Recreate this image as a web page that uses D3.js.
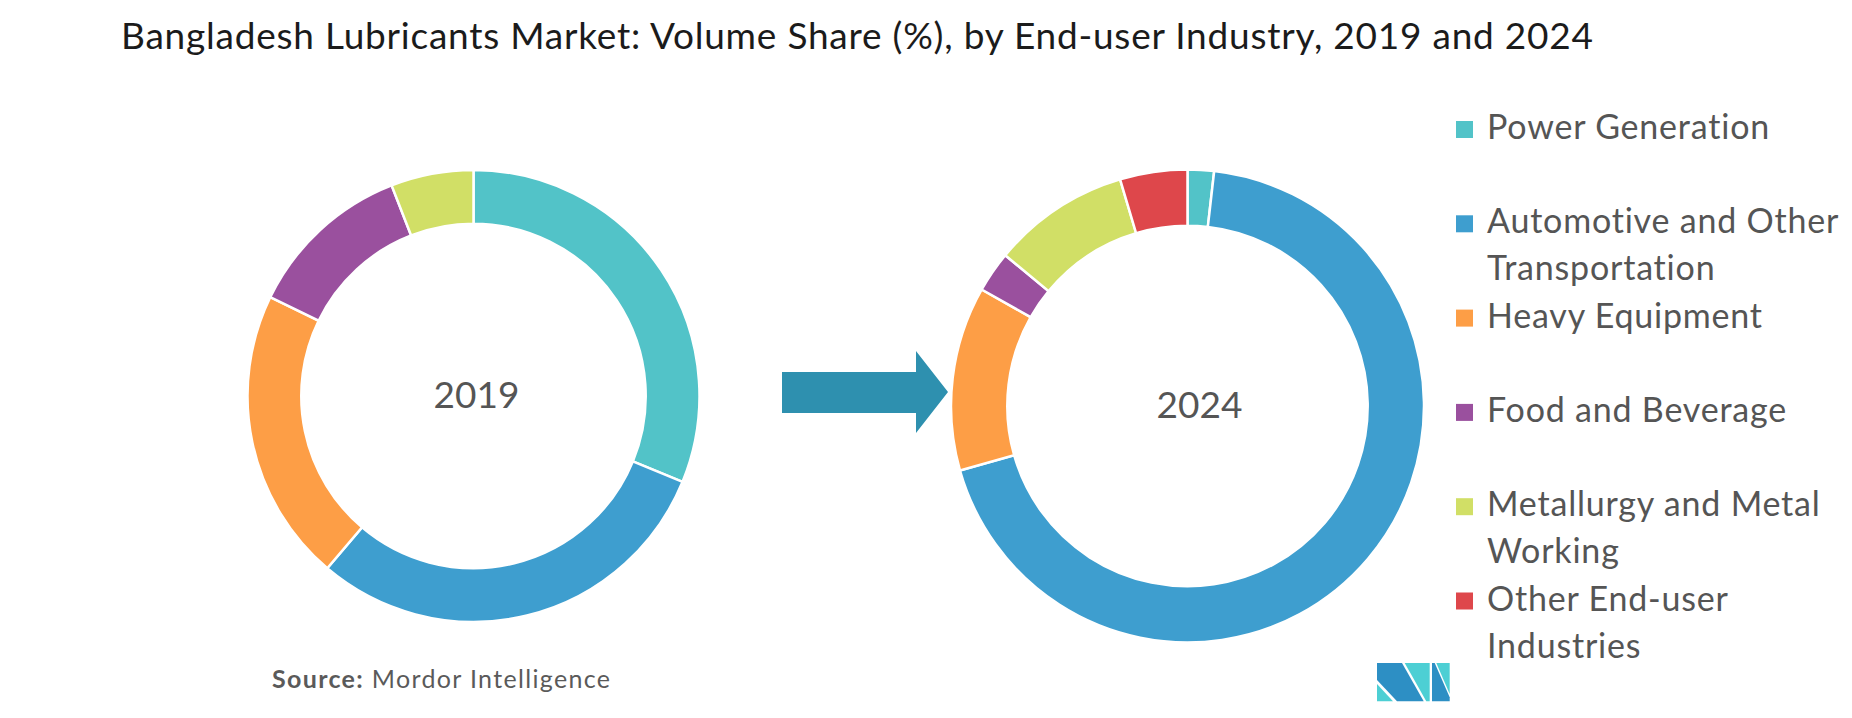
<!DOCTYPE html>
<html>
<head>
<meta charset="utf-8">
<script src="https://cdn.jsdelivr.net/npm/d3@7"></script>
<style>
  body { margin: 0; background: #fff; }
  svg text { font-family: Lato, "Open Sans", sans-serif; }
</style>
</head>
<body>
<svg id="chart"></svg>
<script>
const categories = [
    'Power Generation',
    'Automotive and Other Transportation',
    'Heavy Equipment',
    'Food and Beverage',
    'Metallurgy and Metal Working',
    'Other End-user Industries'
];
const years = ['2019', '2024'];
const share2019 = [31.2, 30.0, 21.0, 11.9, 5.9, 0];
const share2024 = [1.8, 68.8, 12.6, 2.8, 9.4, 4.6];

const width = 1852;
const height = 718;

const colors = ['#52c3c8', '#3e9ecf', '#fd9e46', '#9a509e', '#d1df66', '#de474b'];
const color = d3.scaleOrdinal().domain(categories).range(colors);

const svg = d3.select('#chart')
    .attr('width', width)
    .attr('height', height);

// title
svg.append('text')
    .attr('x', 121)
    .attr('y', 49)
    .attr('font-size', 37)
    .attr('fill', '#1b1b1b')
    .attr('textLength', 1472)
    .attr('lengthAdjust', 'spacing')
    .text('Bangladesh Lubricants Market: Volume Share (%), by End-user Industry, 2019 and 2024');

const pie = d3.pie()
    .sort(null)
    .value(d => d.value);

// one donut per year
const donuts = [
    { year: years[0], values: share2019, cx: 473.5, cy: 396, r: 226, labelDx: 3 },
    { year: years[1], values: share2024, cx: 1187.5, cy: 406, r: 236.5, labelDx: 12 }
];

donuts.forEach(dn => {
    const g = svg.append('g')
        .attr('transform', `translate(${dn.cx}, ${dn.cy})`);

    const arc = d3.arc()
        .outerRadius(dn.r)
        .innerRadius(dn.r * 0.762);

    const rows = categories.map((c, i) => ({ name: c, value: dn.values[i] }))
        .filter(d => d.value > 0);

    g.selectAll('.arc')
        .data(pie(rows))
        .enter().append('path')
        .attr('class', 'arc')
        .attr('d', arc)
        .attr('fill', d => color(d.data.name))
        .attr('stroke', '#fff')
        .attr('stroke-width', 2.5);

    g.append('text')
        .attr('x', dn.labelDx)
        .attr('y', 12)
        .attr('text-anchor', 'middle')
        .attr('font-size', 37)
        .attr('fill', '#555')
        .text(dn.year);
});

// arrow between the years
svg.append('path')
    .attr('d', 'M782,372 L916,372 L916,351 L948,392 L916,433 L916,413 L782,413 Z')
    .attr('fill', '#2e90af');

// legend
const legend = svg.append('g')
    .attr('transform', 'translate(1456, 0)');

const maxLine = 372;
categories.forEach((c, i) => {
    const y0 = 139 + i * 94.3;
    const item = legend.append('g');
    item.append('rect')
        .attr('x', 0)
        .attr('y', y0 - 18)
        .attr('width', 17)
        .attr('height', 17)
        .attr('fill', color(c));
    const t = item.append('text')
        .attr('x', 31)
        .attr('y', y0)
        .attr('font-size', 34)
        .attr('letter-spacing', 0.8)
        .attr('fill', '#555');
    // wrap words onto a second line when too long
    const words = c.split(' ');
    let line = [];
    let tspan = t.append('tspan').attr('x', 31).attr('y', y0);
    let lineNo = 0;
    words.forEach(w => {
        line.push(w);
        tspan.text(line.join(' '));
        if (tspan.node().getComputedTextLength() > maxLine && line.length > 1) {
            line.pop();
            tspan.text(line.join(' '));
            line = [w];
            lineNo++;
            tspan = t.append('tspan')
                .attr('x', 31)
                .attr('y', y0 + lineNo * 47)
                .text(w);
        }
    });
});

// source
const src = svg.append('text')
    .attr('x', 272)
    .attr('y', 688)
    .attr('font-size', 25)
    .attr('fill', '#5a5a5a')
    .attr('textLength', 338)
    .attr('lengthAdjust', 'spacing');
src.append('tspan').attr('font-weight', 'bold').text('Source:');
src.append('tspan').text(' Mordor Intelligence');

// logo
const logo = svg.append('g')
    .attr('transform', 'translate(1377, 663)');
logo.append('polygon').attr('points', '0,0 25,0 46.7,38.3 20,38.3 0,17').attr('fill', '#2d8fc4');
logo.append('polygon').attr('points', '0,21 0,38.3 16,38.3').attr('fill', '#4dcfd4');
logo.append('polygon').attr('points', '27.7,0 52.7,0 52.7,38.3 49.3,38.3').attr('fill', '#4dcfd4');
logo.append('polygon').attr('points', '55,0 57.7,0 72.7,34.3 72.7,38.3 55,38.3').attr('fill', '#2d8fc4');
logo.append('polygon').attr('points', '59.3,0 72.7,0 72.7,31').attr('fill', '#4dcfd4');
</script>
</body>
</html>
